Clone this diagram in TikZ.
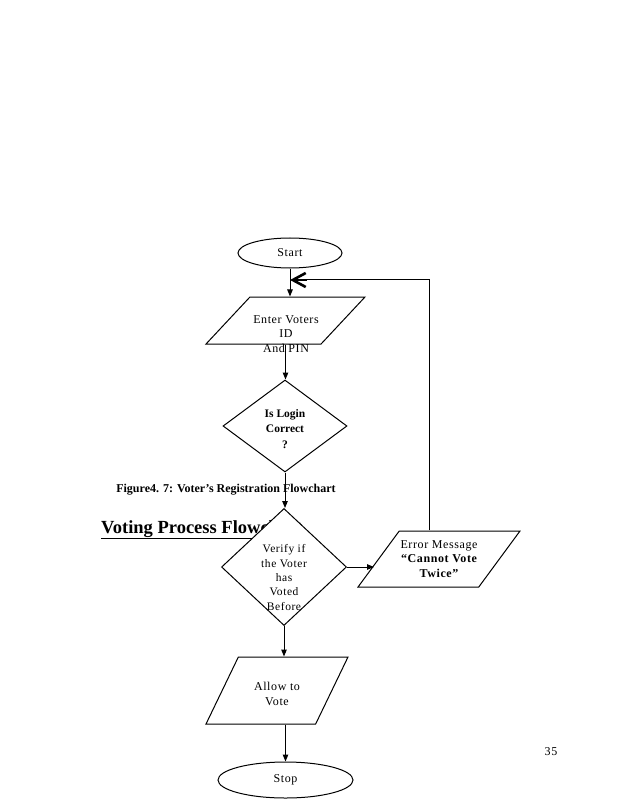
\documentclass[tikz,border=0pt]{standalone}
\usepackage{fontspec}
\setmainfont{Liberation Serif}
\newfontfamily\regsp{Liberation Serif}[LetterSpace=5]
\usetikzlibrary{shapes.geometric,arrows.meta}
\begin{document}
\begin{tikzpicture}[x=1pt,y=-1pt,
  base/.style={draw,line width=1pt,inner sep=0pt},
  term/.style={base,ellipse},
  io/.style={draw,line width=1pt,inner sep=2pt,trapezium,trapezium stretches=true},
  dec/.style={base,diamond,fill=white},
  txt/.style={align=center,inner sep=0pt,font=\regsp\fontsize{12}{14.5}\selectfont},
  btxt/.style={align=center,inner sep=0pt,font=\bfseries\fontsize{12}{14.5}\selectfont},
  arr/.style={line width=1pt,-{Triangle[length=7pt,width=5.5pt]}},
  conn/.style={line width=1pt}]
\useasboundingbox (0,0) rectangle (638,799);
\fill[white] (0,0) rectangle (638,799);

% captions behind the second diamond
\node[btxt,anchor=center] (cap) at (226,490) {Figure4. 7: Voter’s Registration Flowchart};
\node[anchor=base west,inner sep=0pt,font=\bfseries\fontsize{18.5}{22}\selectfont] (title) at (101,533) {\underline{Voting Process Flowchart}};

% shapes
\node[term,minimum width=104pt,minimum height=30pt] (start) at (290,253) {};
\node[txt] (starttxt) at (start.center) {Start};

\node[io,trapezium left angle=58.3,trapezium right angle=121.7,minimum width=159pt,minimum height=47pt] (p1) at (285.5,320.5) {};
\node[txt] (p1txt) at (286,334) {Enter Voters\\ID\\And PIN};

\node[dec,minimum width=124pt,minimum height=92pt] (d1) at (285,426) {};
\node[btxt,font=\bfseries\fontsize{11.5}{15.5}\selectfont] (d1txt) at (285,429) {Is Login\\Correct\\?};

\node[dec,minimum width=125pt,minimum height=117pt] (d2) at (284,567) {};
\node[txt,font=\regsp\fontsize{11.5}{14.3}\selectfont] (d2txt) at (284,577.5) {Verify if\\the Voter\\has\\Voted\\Before};

\node[io,trapezium left angle=62.6,trapezium right angle=117.4,minimum width=162pt,minimum height=56pt] (err) at (439,559) {};
\node[txt] (errtxt) at (439,559) {Error Message\\{\bfseries “Cannot Vote}\\{\bfseries Twice”}};

\node[io,trapezium left angle=67.3,trapezium right angle=112.7,minimum width=142pt,minimum height=67pt] (allow) at (277,690.5) {};
\node[txt] (allowtxt) at (277,694) {Allow to\\Vote};

\node[term,minimum width=135pt,minimum height=36pt] (stop) at (285.5,780) {};
\node[txt] (stoptxt) at (stop.center) {Stop};

\node[txt,anchor=center] (pg) at (551,752) {35};

% connectors
\coordinate (fbc) at (429,279);
\coordinate (fbtip) at (290,280);
\draw[arr] (start.south) -- (start.south |- p1.north);
\draw[arr] (p1.south) -- (p1.south |- d1.north);
\draw[arr] (d1.south) -- (d1.south |- d2.north);
\draw[arr,shorten >=4pt] (d2.east) -- (d2.east -| err.west);
\draw[arr] (d2.south) -- (d2.south |- allow.north);
\draw[arr] (stop.north |- allow.south) -- (stop.north);
\draw[conn] (err.north -| fbc) -- (fbc) -- ([xshift=17pt]fbtip |- fbc);
\draw[line width=2.6pt,-{Straight Barb[length=13pt,width=14pt,line width=2.6pt]}] ([xshift=17pt]fbtip) -- (fbtip);
\end{tikzpicture}
\end{document}
